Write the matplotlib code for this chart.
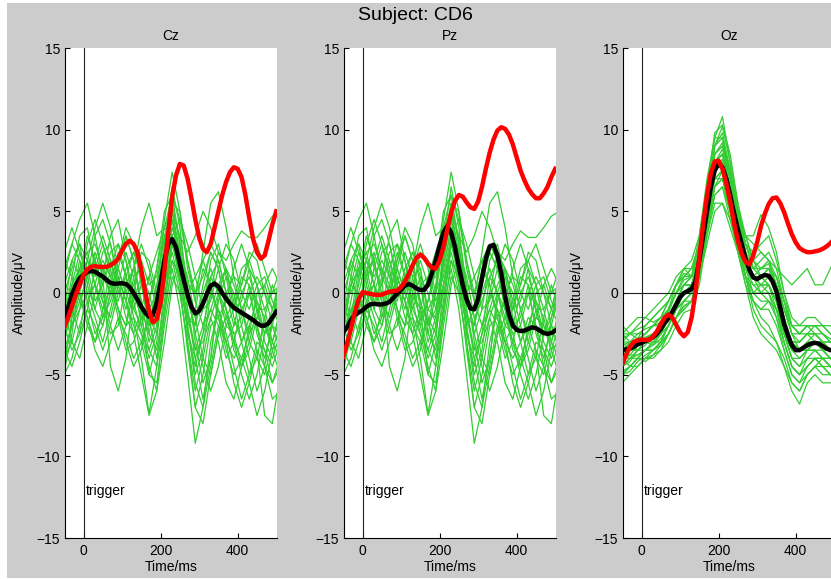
import numpy as np
import matplotlib.pyplot as plt
from matplotlib.patches import Rectangle

plt.rcParams['font.family'] = ['Liberation Sans', 'DejaVu Sans']


# ------------------------------------------------------------------
# ERP data
# ------------------------------------------------------------------

channels = ["Cz", "Pz", "Oz"]
subject = "CD6"

# averages, sampled every 10 ms from -50 to 500 ms
t_avg = np.arange(-50, 501, 10)

red_cz = [-2.1, -1.5, -0.8, -0.1, 0.5,
          1.1, 1.45, 1.6, 1.65, 1.6, 1.6, 1.6, 1.7, 1.85, 2.1,
          2.6, 3.0, 3.2, 3.0, 2.5, 1.4, 0.1, -1.1, -1.8, -1.6,
          -0.6, 1.4, 3.7, 5.9, 7.2, 7.9, 7.8, 7.0, 5.8, 4.5,
          3.4, 2.7, 2.5, 3.0, 4.0, 5.0, 6.0, 6.8, 7.4, 7.7,
          7.6, 7.1, 6.0, 4.6, 3.3, 2.5, 2.1, 2.3, 3.2, 4.2,
          5.0]
black_cz = [-1.7, -0.9, -0.1, 0.5, 0.9,
            1.1, 1.3, 1.35, 1.3, 1.15, 1.0, 0.8, 0.62, 0.56, 0.58,
            0.6, 0.55, 0.35, 0.0, -0.4, -0.85, -1.2, -1.45, -1.35, -0.6,
            0.6, 2.0, 3.0, 3.3, 2.8, 1.8, 0.8, -0.1, -0.85, -1.25,
            -1.1, -0.65, -0.05, 0.45, 0.58, 0.4, 0.0, -0.35, -0.65, -0.9,
            -1.05, -1.2, -1.35, -1.5, -1.65, -1.85, -2.0, -2.0, -1.85, -1.5,
            -1.15]

red_pz = [-3.9, -3.1, -2.2, -1.2, -0.4,
          0.05, 0.0, -0.05, -0.1, -0.12, -0.1, 0.0, 0.08, 0.12, 0.15,
          0.35, 0.7, 1.15, 1.7, 2.15, 2.35, 2.15, 1.8, 1.55, 1.5,
          2.0, 2.8, 3.9, 4.9, 5.65, 6.0, 5.9, 5.55, 5.25, 5.15,
          5.6, 6.5, 7.6, 8.6, 9.4, 9.95, 10.15, 10.05, 9.7, 9.1,
          8.3, 7.5, 6.9, 6.4, 6.05, 5.8, 5.8, 6.1, 6.5, 7.1,
          7.6]
black_pz = [-2.4, -2.1, -1.65, -1.35, -1.2,
            -1.05, -0.85, -0.7, -0.65, -0.7, -0.7, -0.65, -0.55, -0.3, -0.05,
            0.2, 0.45, 0.55, 0.45, 0.28, 0.18, 0.2, 0.5, 1.2, 2.0,
            2.9, 3.7, 4.1, 3.7, 2.8, 1.6, 0.5, -0.4, -0.95, -1.0,
            -0.35, 0.9, 2.1, 2.85, 2.95, 2.3, 1.2, -0.2, -1.3, -2.0,
            -2.25, -2.33, -2.3, -2.2, -2.1, -2.15, -2.3, -2.45, -2.5, -2.45,
            -2.3]

red_oz = [-4.35, -3.8, -3.3, -3.0, -2.9,
          -2.85, -2.87, -2.87, -2.65, -2.35, -1.9, -1.5, -1.32, -1.5, -1.95,
          -2.4, -2.65, -2.4, -1.5, 0.0, 2.2, 4.2, 6.0, 7.35, 8.05,
          8.1, 7.6, 6.7, 5.6, 4.3, 3.2, 2.4, 1.9, 1.75, 2.3,
          3.1, 4.1, 4.85, 5.45, 5.8, 5.85, 5.5, 4.95, 4.25, 3.6,
          3.1, 2.75, 2.6, 2.5, 2.5, 2.55, 2.6, 2.7, 2.85, 3.05,
          3.3]
black_oz = [-3.5, -3.45, -3.4, -3.3, -3.15,
            -3.05, -2.95, -2.85, -2.7, -2.5, -2.2, -1.85, -1.55, -1.15, -0.7,
            -0.25, 0.0, 0.12, 0.25, 0.7, 2.0, 3.5, 5.0, 6.5, 7.5,
            7.9, 7.7, 7.0, 6.0, 4.9, 3.9, 3.0, 2.1, 1.4, 0.95,
            0.85, 1.0, 1.1, 1.05, 0.7, 0.1, -0.9, -1.9, -2.6, -3.2,
            -3.5, -3.5, -3.35, -3.2, -3.1, -3.05, -3.1, -3.25, -3.4, -3.5,
            -3.55]

# single trials, sampled every 20 ms from -50 to 510 ms
t_trial = np.arange(-50, 511, 20)

# the figure shows the same trial set in Cz and Pz
trials_cz_pz = [
    [-4.8, -2.5, 1.0, 3.5, 2.0, -0.5, -1.5, 0.5, 2.5, 1.0, -2.0, -4.0, -2.5, 3.0, 6.5, 4.0, 0.0, -2.5, -1.0, 2.0, 3.0, 1.0, -1.5, -3.0, -2.0, -0.5, -1.5, -3.5, -3.0],
    [1.0, 3.0, 4.5, 5.5, 3.5, 1.0, 0.0, 1.5, 3.5, 2.0, -1.0, -2.5, 0.0, 4.5, 7.4, 5.0, 1.5, -0.5, 2.5, 5.5, 6.2, 4.0, 1.0, 0.5, 2.0, 3.0, 1.5, 0.0, 0.5],
    [-3.0, -1.0, -2.5, -1.0, 1.5, 3.0, 1.5, -1.0, -2.0, -1.5, -4.0, -7.4, -4.5, 0.5, 2.5, 0.5, -3.5, -7.0, -5.0, -2.0, -1.5, -3.5, -5.0, -4.0, -5.5, -7.5, -6.0, -3.5, -2.0],
    [-1.0, 2.0, 3.0, 0.5, -1.0, 1.0, 3.5, 4.5, 2.0, -1.0, -2.0, -0.5, 1.5, 5.0, 6.0, 3.0, -1.0, -4.0, -6.5, -4.0, 0.0, 1.5, -0.5, -3.0, -5.0, -4.0, -1.5, 0.5, -1.0],
    [-2.5, 0.5, 1.5, -0.5, -2.5, -1.5, 0.5, -1.0, -3.0, -4.5, -3.5, -1.0, -1.5, 1.5, 4.0, 2.5, 1.0, -1.5, -4.0, -5.0, -2.5, 0.0, 1.0, -1.0, -3.0, -4.0, -5.0, -3.0, -1.0],
    [0.0, -1.5, 0.5, 3.0, 4.5, 3.0, 1.0, 2.0, 4.0, 3.0, 0.5, -2.0, -1.0, 2.0, 4.5, 2.0, -2.0, -5.0, -3.5, 0.0, 2.5, 1.5, -1.0, -0.5, 1.5, 0.5, -2.0, -3.0, -1.5],
    [-4.0, -3.0, -1.0, 0.0, -1.5, -3.0, -1.0, 1.0, -0.5, -2.5, -5.0, -7.5, -6.0, -1.0, 1.5, -1.0, -5.0, -9.2, -7.0, -3.0, -1.0, -2.5, -4.5, -6.5, -5.0, -3.0, -3.5, -5.5, -4.0],
    [2.0, 1.0, -0.5, 1.0, 3.5, 4.5, 3.0, 0.5, -1.0, 0.5, 2.0, 0.5, 1.0, 3.5, 5.0, 3.5, 2.5, 3.5, 5.0, 4.0, 2.5, 2.0, 3.0, 3.8, 3.4, 3.4, 4.0, 4.7, 5.0],
    [-3.5, -2.0, 0.0, 2.0, 0.5, -1.0, 0.5, 2.5, 1.0, -1.5, -2.5, -3.5, -2.0, 0.0, 2.0, 0.0, -3.0, -6.0, -4.0, -1.5, -3.0, -5.5, -6.5, -4.5, -2.0, -3.5, -7.5, -8.0, -5.0],
    [-1.5, 1.0, 3.5, 4.0, 1.5, 0.5, 2.5, 3.0, 1.0, -0.5, 1.0, 0.0, -2.0, 0.5, 3.0, 1.5, 0.0, 1.0, 2.0, 0.5, -1.5, -0.5, 1.5, 3.0, 1.5, -1.0, -2.5, -1.5, 0.0],
    [-5.0, -4.0, -2.0, -0.5, 0.5, -0.5, -2.5, -2.0, 0.5, 1.5, -0.5, -3.0, -1.5, 2.5, 5.0, 2.0, -2.5, -4.0, -2.5, -1.0, -2.0, -4.0, -3.0, -1.0, 0.0, -2.0, -4.5, -5.5, -4.5],
    [0.5, 2.0, 1.0, 2.0, 4.0, 5.5, 4.0, 1.5, 0.0, 1.5, 3.0, 1.5, -0.5, 1.0, 3.5, 1.0, -1.5, -2.0, 0.5, 2.5, 1.5, -1.0, -2.5, -2.0, 0.0, 1.0, 0.0, -2.0, -2.5],
    [-2.0, -3.5, -2.5, 0.5, 2.5, 1.0, -4.5, -6.0, -4.0, 0.0, -1.0, -5.0, -5.5, -2.0, 1.0, 0.0, -3.0, -7.0, -8.0, -5.0, -2.5, -1.5, -3.0, -5.0, -6.5, -5.0, -2.5, -2.0, -3.5],
    [1.5, 3.0, 2.0, 0.0, 0.5, 2.5, 3.0, 1.0, -0.5, 1.5, 4.0, 5.5, 3.5, 4.0, 6.0, 4.5, 3.0, 1.0, -1.0, -0.5, 1.5, 3.0, 2.0, 0.0, -1.0, 0.5, 1.0, -0.5, -1.5],
    [-3.0, -0.5, 2.0, 1.0, -1.0, -2.0, 0.0, 2.0, 3.5, 2.0, -0.5, -2.0, 0.5, 3.5, 4.5, 1.5, -2.5, -4.5, -2.5, 1.0, 2.0, 0.0, -2.0, -1.5, 0.5, -1.0, -3.0, -4.0, -2.5],
    [-0.5, -2.0, -1.0, 1.5, 2.0, 0.0, -2.0, -3.5, -2.0, 1.0, 1.5, -1.5, -4.0, -1.0, 3.0, 3.5, 0.5, -3.0, -5.5, -4.0, -0.5, 1.0, 0.0, -2.0, -4.0, -6.0, -4.5, -1.5, 0.5],
    [-4.5, -1.5, 1.5, 2.5, 3.0, 1.5, 0.0, -0.5, 1.5, 2.5, 1.0, -2.5, -3.5, -0.5, 3.5, 4.5, 2.0, 0.0, 1.0, 2.5, 1.5, -1.0, -3.5, -4.5, -3.0, -1.0, -1.0, -3.0, -4.0],
    [0.5, 0.0, 1.5, 2.5, 0.5, -1.5, -0.5, 1.0, -0.5, -2.0, -3.0, -5.0, -3.0, 2.0, 5.5, 3.0, -0.5, -2.0, 0.0, 1.5, 0.0, -2.0, -1.0, 1.0, 0.5, -2.5, -4.0, -2.0, 0.0],
    [-2.0, 0.5, 2.5, 1.5, -0.5, 0.5, 2.0, 0.5, -1.5, -2.5, -1.0, 1.0, 2.5, 4.0, 3.5, 0.5, -2.0, -1.0, 1.5, 0.5, -1.5, -3.0, -2.0, 0.0, 1.0, -0.5, -2.5, -1.0, 1.0],
    [-1.0, -3.0, -4.0, -2.0, 0.0, 1.5, 0.5, -1.5, -3.5, -3.0, -1.5, -3.5, -4.5, -1.5, 2.0, 1.0, -1.5, -3.5, -2.0, 0.0, -1.0, -3.0, -4.0, -3.0, -1.5, -2.0, -3.5, -4.5, -3.0],
    [2.5, 4.0, 2.5, 1.0, 2.0, 3.5, 2.0, 0.0, 1.0, 2.5, 1.5, -1.0, 0.0, 3.0, 5.5, 5.0, 2.0, -0.5, -2.0, -1.0, 0.5, 1.5, 0.5, -1.0, -2.5, -1.5, 0.5, 1.5, 0.5],
    [-3.5, -4.5, -3.0, -1.0, -2.0, -3.5, -2.0, 0.0, 1.0, -0.5, -2.5, -4.5, -6.0, -3.0, 0.5, 2.0, 0.0, -2.5, -4.5, -6.0, -4.5, -2.0, -2.5, -4.5, -3.5, -1.5, -2.0, -3.5, -5.0],
    [0.0, 1.5, 3.0, 2.0, 1.0, 2.0, 1.0, -1.0, -2.0, 0.0, 2.5, 2.0, 0.0, 1.5, 4.0, 2.5, 0.5, 0.0, 2.0, 3.0, 2.0, 0.0, -1.0, 0.5, 2.5, 2.0, 0.0, -1.0, 0.5],
    [-2.5, -1.0, 0.0, -1.5, -3.0, -2.0, 0.0, 1.5, 0.0, -1.0, 0.5, 1.0, -1.0, 0.5, 3.0, 2.0, -1.0, -3.5, -3.0, -1.5, 0.0, -1.0, -3.0, -4.0, -2.5, 0.0, 0.5, -1.0, -2.0],
    [-1.5, 0.5, 0.0, -2.0, -3.0, -1.0, 1.5, 3.0, 2.0, 0.0, -1.5, -0.5, 1.5, 4.0, 5.0, 2.5, 0.0, -1.5, -0.5, 1.0, 0.0, -1.5, -0.5, 1.5, 2.0, 0.5, -1.0, 0.0, 1.5],
    [-4.0, -2.0, -0.5, -1.5, -3.5, -4.5, -3.0, -1.5, -2.5, -4.0, -3.0, -1.5, -2.5, 0.5, 3.0, 1.0, -2.0, -5.5, -7.0, -4.5, -2.0, -3.0, -5.5, -7.0, -5.5, -3.5, -4.5, -6.5, -6.0],
]

trials_oz = [
    [-3.0, -2.5, -2.8, -2.0, -1.5, -1.0, -0.5, 0.5, 1.5, 2.0, 3.5, 6.5, 9.5, 10.8, 8.0, 5.0, 3.5, 3.5, 4.8, 4.0, 2.5, 0.0, -2.0, -2.5, -2.0, -2.0, -2.5, -2.8, -3.0],
    [-5.0, -4.5, -4.0, -4.2, -3.8, -3.5, -3.0, -2.0, -1.2, -1.0, 0.5, 3.5, 6.0, 6.5, 4.5, 2.5, 0.5, -0.5, -1.5, -2.0, -3.0, -4.5, -5.5, -6.0, -5.0, -4.5, -4.5, -5.0, -5.0],
    [-4.0, -3.5, -3.5, -3.0, -3.2, -2.5, -1.5, -0.5, 0.5, 0.5, 2.5, 5.5, 8.0, 8.5, 6.5, 4.5, 2.5, 1.5, 1.5, 1.8, 0.5, -1.5, -3.0, -3.5, -3.0, -3.0, -3.5, -4.0, -4.0],
    [-2.0, -2.5, -2.0, -1.5, -1.8, -1.5, -0.5, 0.5, 1.5, 1.5, 3.0, 6.0, 9.0, 10.2, 8.0, 5.5, 3.5, 2.0, 1.5, 1.5, 0.5, -1.0, -2.0, -2.0, -1.5, -1.5, -2.0, -2.0, -2.5],
    [-5.5, -5.0, -4.5, -4.0, -3.5, -3.0, -2.5, -1.5, -0.8, -0.5, 1.0, 4.0, 6.5, 7.0, 5.0, 3.0, 1.0, 0.0, 0.0, 0.0, -1.0, -3.0, -4.5, -5.0, -4.5, -4.0, -4.5, -5.0, -5.5],
    [-3.5, -3.0, -2.5, -2.5, -2.0, -1.5, -1.0, 0.0, 0.5, 1.0, 3.5, 7.0, 9.5, 9.5, 7.0, 4.5, 3.0, 2.0, 2.5, 2.0, 0.5, -1.5, -3.0, -3.0, -2.5, -2.0, -2.0, -2.5, -3.0],
    [-4.5, -4.0, -3.8, -3.5, -3.5, -3.2, -2.5, -1.5, -0.8, -0.5, 1.0, 3.5, 5.5, 5.5, 4.0, 2.5, 0.5, -1.5, -2.5, -3.0, -3.5, -4.5, -6.0, -6.8, -5.5, -5.0, -5.5, -5.5, -5.5],
    [-3.0, -3.5, -3.0, -2.5, -2.0, -2.0, -1.5, -0.5, 0.5, 1.0, 2.5, 5.0, 7.5, 8.2, 6.5, 4.5, 2.5, 1.0, 0.5, 0.5, -0.5, -2.0, -3.0, -3.5, -3.5, -3.0, -3.0, -3.0, -3.5],
    [-2.5, -2.0, -1.5, -1.5, -1.0, -0.5, 0.0, 1.0, 1.5, 1.0, 2.0, 4.5, 7.0, 7.5, 6.0, 4.5, 3.5, 3.0, 2.5, 2.0, 1.5, 1.0, 0.5, 1.0, 1.5, 0.5, 0.5, 1.5, 2.5],
    [-4.0, -4.0, -3.5, -3.5, -3.0, -2.5, -2.0, -1.0, 0.0, 0.0, 1.5, 4.5, 7.0, 7.5, 6.0, 3.5, 1.5, 0.5, 0.5, 0.5, -0.5, -2.5, -4.0, -4.0, -3.5, -3.5, -4.0, -4.5, -4.5],
    [-3.0, -3.0, -3.0, -2.8, -2.5, -2.0, -1.0, 0.0, 0.8, 1.0, 2.5, 5.5, 8.5, 9.0, 7.0, 5.0, 3.0, 1.5, 1.0, 1.5, 1.0, -0.5, -2.0, -2.5, -2.5, -3.0, -3.5, -3.5, -3.5],
    [-4.5, -4.2, -3.5, -3.0, -2.8, -2.5, -2.0, -1.0, -0.5, -0.5, 1.0, 4.0, 6.0, 6.5, 5.0, 3.0, 1.5, 0.0, -0.5, -0.5, -1.5, -3.0, -4.5, -5.0, -4.0, -3.5, -4.0, -4.0, -4.5],
    [-3.5, -3.5, -3.5, -3.2, -2.5, -2.0, -1.5, -0.5, 0.0, 0.5, 2.0, 5.0, 8.0, 8.8, 7.0, 4.0, 2.0, 1.0, 1.5, 1.5, 0.0, -2.0, -3.5, -4.0, -3.5, -3.0, -3.0, -3.5, -4.0],
    [-2.5, -2.5, -2.2, -2.0, -1.5, -1.0, -0.5, 0.5, 1.0, 1.5, 3.0, 6.0, 8.5, 9.0, 7.5, 5.0, 2.5, 1.0, 0.5, 1.0, 0.5, -1.0, -2.5, -2.5, -2.0, -2.0, -2.5, -3.0, -3.0],
    [-5.0, -4.5, -4.5, -4.0, -4.0, -3.5, -2.5, -1.5, -1.0, -0.5, 1.5, 4.5, 7.0, 7.0, 5.0, 2.5, 1.0, 0.5, 0.0, 0.5, -0.5, -2.5, -4.0, -4.5, -4.0, -4.0, -4.5, -4.5, -5.0],
    [-4.0, -3.0, -3.5, -3.0, -2.5, -2.5, -1.5, -0.5, 0.5, 0.5, 2.0, 5.5, 9.0, 9.8, 7.5, 4.0, 2.0, 1.0, 1.0, 1.5, 1.0, -1.0, -2.5, -3.0, -2.5, -2.5, -3.0, -3.5, -3.0],
    [-3.5, -3.8, -3.2, -3.0, -3.0, -2.5, -1.5, -1.0, 0.0, 0.5, 2.0, 4.5, 6.5, 7.0, 5.5, 3.0, 1.0, -0.5, -1.0, -0.5, -1.0, -2.5, -4.0, -4.5, -3.5, -3.5, -3.5, -4.0, -4.5],
    [-4.5, -4.0, -4.0, -3.5, -3.5, -3.0, -2.0, -1.0, -0.5, 0.0, 1.5, 5.0, 8.0, 8.5, 6.5, 3.5, 2.0, 1.0, 1.0, 0.5, -1.0, -3.0, -4.5, -5.0, -4.5, -4.0, -4.0, -4.5, -5.0],
    [-3.8, -3.5, -3.0, -2.7, -2.5, -2.0, -1.0, 0.5, 1.2, 1.0, 2.5, 6.0, 9.0, 9.5, 7.5, 4.5, 3.0, 2.5, 3.0, 3.5, 2.0, 0.0, -1.5, -2.0, -2.0, -2.5, -2.5, -3.0, -3.0],
    [-4.0, -4.5, -4.0, -3.5, -3.0, -3.0, -2.5, -1.5, -0.5, 0.0, 1.5, 4.0, 7.5, 8.0, 6.0, 3.0, 1.0, 0.0, 0.5, 0.0, -1.5, -3.5, -5.0, -5.5, -5.0, -4.5, -4.0, -4.0, -4.5],
    [-2.5, -3.0, -2.8, -2.5, -2.0, -1.5, -0.5, 0.5, 1.0, 1.0, 3.0, 6.5, 9.8, 10.3, 8.5, 5.5, 3.0, 1.5, 1.5, 2.0, 1.0, -0.5, -2.0, -2.5, -2.0, -2.0, -2.0, -2.5, -2.5],
    [-5.0, -4.8, -4.2, -3.8, -3.5, -3.0, -2.0, -1.0, -0.5, 0.0, 1.0, 3.0, 5.0, 5.5, 4.5, 3.0, 1.0, -1.0, -2.0, -2.5, -3.0, -4.0, -5.5, -6.0, -5.0, -4.5, -5.0, -5.0, -5.0],
    [-3.2, -3.0, -3.2, -3.0, -2.8, -2.2, -1.2, 0.0, 1.0, 1.5, 3.0, 5.5, 8.0, 8.5, 7.0, 5.0, 3.5, 2.0, 1.0, 0.5, -0.5, -2.5, -3.5, -3.5, -3.0, -2.5, -3.0, -3.5, -3.5],
    [-4.2, -3.8, -3.8, -3.5, -3.2, -2.8, -2.0, -1.0, 0.0, 0.5, 2.0, 5.0, 7.5, 8.0, 6.5, 4.0, 2.0, 1.5, 2.0, 2.5, 1.5, -0.5, -2.5, -3.5, -3.5, -3.0, -3.5, -4.0, -4.0],
    [-2.8, -2.5, -2.5, -2.2, -2.0, -1.8, -1.0, 0.0, 0.5, 0.5, 2.0, 5.0, 8.5, 9.2, 7.0, 4.5, 2.5, 1.0, 0.0, -0.5, -1.0, -2.0, -3.0, -3.0, -2.5, -2.5, -3.0, -3.0, -3.0],
    [-4.8, -4.5, -4.0, -4.0, -3.8, -3.2, -2.5, -1.5, -1.0, -0.5, 1.0, 4.0, 6.5, 7.5, 6.0, 3.5, 1.0, -0.5, -1.0, -1.0, -2.0, -3.5, -5.0, -5.5, -4.5, -4.0, -4.0, -4.5, -5.0],
]

trials = [trials_cz_pz, trials_cz_pz, trials_oz]
reds = [red_cz, red_pz, red_oz]
blacks = [black_cz, black_pz, black_oz]


# ------------------------------------------------------------------
# Figure
# ------------------------------------------------------------------

W, H = 831, 579
fig = plt.figure(figsize=(W / 100, H / 100), dpi=100, facecolor="white")
fig.patches.append(Rectangle((7 / W, 1 / H), 824 / W, 575 / H,
                             transform=fig.transFigure, facecolor="#cccccc",
                             edgecolor="none", zorder=-1))

lefts = [65, 344, 623]
ax_w, ax_top, ax_bottom = 212, 48, 538

for i, ch in enumerate(channels):
    ax = fig.add_axes([lefts[i] / W, 1 - ax_bottom / H, ax_w / W, (ax_bottom - ax_top) / H])
    ax.set_facecolor("white")

    for tr in trials[i]:
        ax.plot(t_trial, tr, color="#33cc33", linewidth=0.9, zorder=1)

    ax.axhline(0, color="#202020", linewidth=0.8, zorder=2)
    ax.axvline(0, color="#202020", linewidth=0.8, zorder=2)

    ax.plot(t_avg, blacks[i], color="black", linewidth=3.2, zorder=3)
    ax.plot(t_avg, reds[i], color="red", linewidth=3.2, zorder=4)

    ax.text(5, -12.1, "trigger", fontsize=10, ha="left", va="center")

    ax.set_xlim(-48, 502)
    ax.set_ylim(-15, 15)
    ax.set_xticks([0, 200, 400])
    ax.set_yticks([-15, -10, -5, 0, 5, 10, 15])
    ax.tick_params(direction="in", length=3.5, labelsize=10, top=False, right=False)
    ax.tick_params(axis="x", pad=4.5)
    ax.spines["top"].set_visible(False)
    ax.spines["right"].set_visible(False)

    ax.set_title(ch, fontsize=10, pad=5.5)
    ax.set_xlabel("Time/ms", fontsize=10)
    ax.set_ylabel("Amplitude/\u03bcV", fontsize=10)
    ax.xaxis.set_label_coords(0.5, -0.045)
    ax.yaxis.set_label_coords(-0.185, 0.5)

fig.text(0.5, 1 - 16 / H, "Subject: " + subject, fontsize=14, ha="center", va="center")

fig.savefig("out.png", dpi=100, facecolor=fig.get_facecolor())
